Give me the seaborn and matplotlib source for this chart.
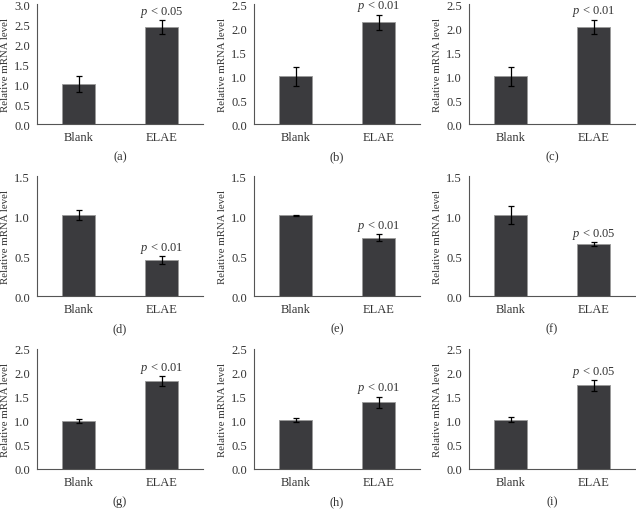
import seaborn as sns
import matplotlib.pyplot as plt
import numpy as np
import pandas as pd

groups = ['Blank', 'ELAE']
panels = ['(a)', '(b)', '(c)', '(d)', '(e)', '(f)', '(g)', '(h)', '(i)']
means = [[1.00, 2.42], [0.99, 2.12], [0.99, 2.02],
         [1.01, 0.45], [1.01, 0.73], [1.01, 0.65],
         [1.00, 1.83], [1.02, 1.39], [1.03, 1.74]]
errs = [[0.20, 0.17], [0.20, 0.16], [0.20, 0.15],
        [0.06, 0.05], [0.005, 0.04], [0.11, 0.02],
        [0.05, 0.10], [0.05, 0.12], [0.05, 0.11]]
pvals = ['< 0.05', '< 0.01', '< 0.01', '< 0.01', '< 0.01', '< 0.05', '< 0.01', '< 0.01', '< 0.05']
ymax = [3.0, 2.5, 2.5, 1.5, 1.5, 1.5, 2.5, 2.5, 2.5]

sns.set_style('white')
plt.rcParams['font.family'] = ['Liberation Serif', 'DejaVu Serif']
plt.rcParams['mathtext.fontset'] = 'custom'
plt.rcParams['mathtext.it'] = 'Liberation Serif:italic'
plt.rcParams['mathtext.rm'] = 'Liberation Serif'

W, H = 636, 510
fig = plt.figure(figsize=(W / 100, H / 100), dpi=100)

lefts = [37, 254, 469]
tops = [5, 177, 350]
aw, ah = 166, 120
bar_col = '#3b3b3e'
spine_col = '#555555'
txt_col = '#333333'

for k in range(9):
    r, c = divmod(k, 3)
    ax = fig.add_axes([lefts[c] / W, 1 - (tops[r] + ah) / H, aw / W, ah / H])
    df = pd.DataFrame({'group': groups, 'value': means[k]})
    sns.barplot(data=df, x='group', y='value', color=bar_col, width=0.4,
                edgecolor='#9a9a9a', linewidth=0.6, saturation=1, ax=ax)
    ax.errorbar([0, 1], means[k], yerr=errs[k], fmt='none', ecolor='black',
                elinewidth=0.9, capsize=2, capthick=0.9)
    ax.set_xlim(-0.5, 1.5)
    ax.set_ylim(0, ymax[k])
    ticks = np.arange(0, ymax[k] + 0.01, 0.5)
    ax.set_yticks(ticks)
    ax.set_yticklabels([f'{v:.1f}' for v in ticks])
    ax.set_xticks([-0.5, 0.5, 1.5], minor=True)
    ax.tick_params(axis='x', which='major', length=0, labelsize=9, pad=5)
    ax.tick_params(axis='x', which='minor', length=3.5, width=0.8, color=spine_col, direction='out')
    ax.tick_params(axis='y', length=3, width=0.8, color=spine_col, direction='out', labelsize=9, pad=2)
    ax.tick_params(axis='both', labelcolor=txt_col)
    sns.despine(ax=ax)
    for s in ['left', 'bottom']:
        ax.spines[s].set_color(spine_col)
        ax.spines[s].set_linewidth(0.8)
    ax.set_ylabel('Relative mRNA level', fontsize=7.8, color=txt_col, labelpad=3)
    ax.set_xlabel(panels[k], fontsize=9, color=txt_col, labelpad=5)
    top = means[k][1] + errs[k][1]
    ax.annotate(r'$\mathit{p}$ ' + pvals[k], xy=(1, top), xytext=(0, 1),
                textcoords='offset points', ha='center', va='bottom',
                fontsize=9, color=txt_col, annotation_clip=False)

fig.savefig('out.png', dpi=100)
